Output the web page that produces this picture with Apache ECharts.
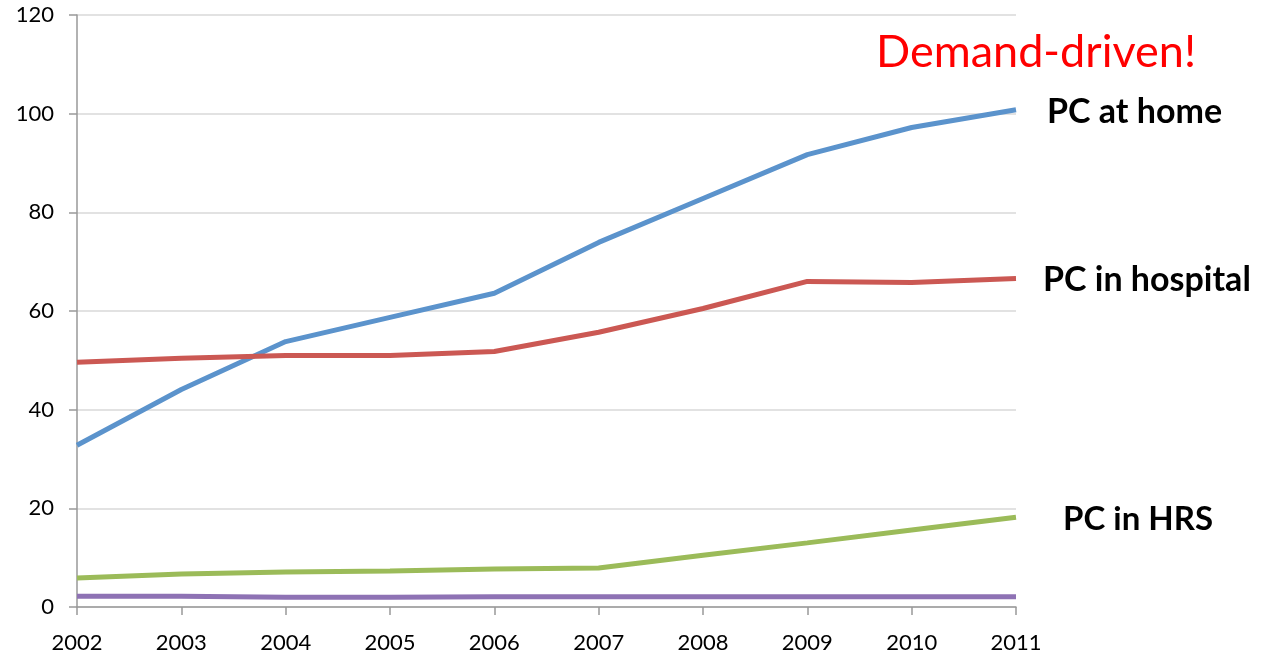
<!DOCTYPE html>
<html>
<head>
<meta charset="utf-8">
<script src="https://cdn.jsdelivr.net/npm/echarts@6/dist/echarts.min.js"></script>
<style>html,body{margin:0;padding:0;background:#fff}#c{width:1265px;height:654px}</style>
</head>
<body>
<div id="c"></div>
<script>
const years = ['2002','2003','2004','2005','2006','2007','2008','2009','2010','2011'];
const pcHome = [32.8, 44.1, 53.8, 58.7, 63.6, 73.9, 82.8, 91.7, 97.2, 100.8];
const pcHospital = [49.6, 50.4, 51.0, 51.0, 51.8, 55.7, 60.5, 66.0, 65.8, 66.6];
const pcHRS = [5.9, 6.7, 7.1, 7.3, 7.7, 7.9, 10.5, 13.0, 15.6, 18.2];
const pcOther = [2.2, 2.2, 2.0, 2.0, 2.1, 2.1, 2.1, 2.1, 2.1, 2.1];
const yTicks = { min: 0, max: 120, interval: 20 };

const FONT = 'Lato';
function lineSeries(name, data, color, label, dist, size) {
  const s = {
    name, type: 'line', data, symbol: 'none', smooth: false,
    lineStyle: { color, width: 5 }, itemStyle: { color },
    z: 3
  };
  if (label) {
    s.endLabel = {
      show: true, formatter: label, distance: dist, offset: [0, 2],
      fontFamily: FONT, fontWeight: 'bold', fontSize: size, color: '#000'
    };
  }
  return s;
}

const chart = echarts.init(document.getElementById('c'), null, { renderer: 'canvas' });
chart.setOption({
  animation: false,
  backgroundColor: '#fff',
  title: {
    text: 'Demand-driven!', left: 871, top: 25,
    textStyle: { fontFamily: FONT, fontWeight: 'normal', fontSize: 45, color: '#ff0000' }
  },
  grid: { left: 77, right: 249, top: 15, bottom: 46, containLabel: false },
  xAxis: {
    type: 'category', data: years, boundaryGap: false,
    axisLine: { show: true, lineStyle: { color: '#999', width: 1.5 } },
    axisTick: { show: true, length: 8, lineStyle: { color: '#999', width: 1.5 } },
    axisLabel: { fontFamily: FONT, fontSize: 22, color: '#000', margin: 25, interval: 0 },
    splitLine: { show: false }
  },
  yAxis: {
    type: 'value', min: yTicks.min, max: yTicks.max, interval: yTicks.interval,
    axisLine: { show: true, lineStyle: { color: '#999', width: 1.5 } },
    axisTick: { show: true, length: 8, lineStyle: { color: '#999', width: 1.5 } },
    axisLabel: { fontFamily: FONT, fontSize: 22, color: '#000', margin: 23 },
    splitLine: { show: true, lineStyle: { color: '#d9d9d9', width: 1.5 } }
  },
  series: [
    lineSeries('PC at home', pcHome, '#5B93CC', 'PC at home', 31, 34),
    lineSeries('PC in hospital', pcHospital, '#CB5853', 'PC in hospital', 27, 34),
    lineSeries('PC in HRS', pcHRS, '#9BBB59', 'PC in HRS', 47, 33),
    lineSeries('Other', pcOther, '#8E72B4', null, 0, 0)
  ]
});
</script>
</body>
</html>
